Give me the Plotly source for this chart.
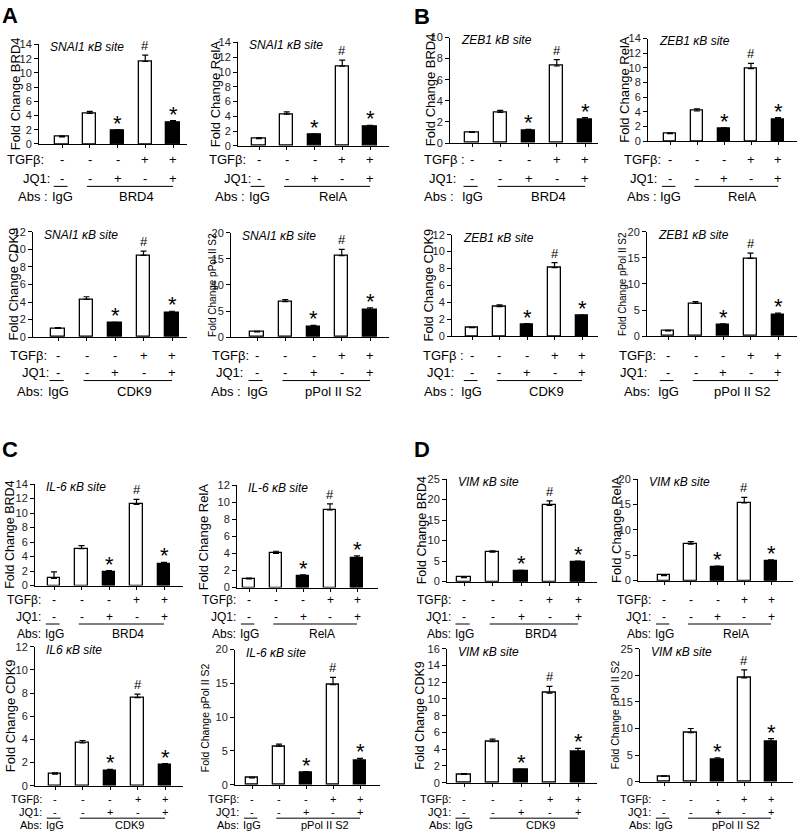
import plotly.graph_objects as go

W, H = 800, 837

# ---------------- data ----------------
tgfb_signs = ["-", "-", "-", "+", "+"]
jq1_signs = ["-", "-", "+", "-", "+"]
star_marks = ["", "", "*", "#", "*"]

snai1_brd4 = [1.0, 4.3, 1.9, 11.6, 3.1]
snai1_brd4_err = [0.12, 0.3, 0.1, 0.9, 0.2]
snai1_rela = [1.0, 4.3, 1.5, 10.8, 2.6]
snai1_rela_err = [0.1, 0.3, 0.1, 0.8, 0.2]
snai1_cdk9 = [1.0, 4.3, 1.6, 9.3, 2.8]
snai1_cdk9_err = [0.1, 0.3, 0.1, 0.5, 0.15]
snai1_pol = [1.0, 6.8, 2.1, 15.6, 5.2]
snai1_pol_err = [0.1, 0.4, 0.15, 1.2, 0.4]

zeb1_brd4 = [1.0, 2.9, 1.2, 7.3, 2.2]
zeb1_brd4_err = [0.06, 0.2, 0.1, 0.6, 0.2]
zeb1_rela = [1.0, 4.1, 1.7, 9.9, 3.0]
zeb1_rela_err = [0.1, 0.3, 0.1, 0.7, 0.2]
zeb1_cdk9 = [1.0, 3.5, 1.4, 8.1, 2.4]
zeb1_cdk9_err = [0.05, 0.2, 0.1, 0.6, 0.1]
zeb1_pol = [1.0, 6.3, 2.2, 14.9, 4.1]
zeb1_pol_err = [0.1, 0.3, 0.15, 1.0, 0.3]

il6_brd4 = [1.0, 5.1, 1.9, 11.2, 2.9]
il6_brd4_err = [0.9, 0.4, 0.15, 0.7, 0.3]
il6_rela = [1.0, 4.0, 1.4, 9.1, 3.4]
il6_rela_err = [0.1, 0.25, 0.1, 0.7, 0.3]
il6_cdk9 = [1.0, 3.7, 1.3, 7.6, 1.8]
il6_cdk9_err = [0.1, 0.2, 0.1, 0.3, 0.1]
il6_pol = [1.0, 5.7, 1.8, 14.8, 3.6]
il6_pol_err = [0.1, 0.3, 0.15, 1.1, 0.3]

vim_brd4 = [1.0, 7.2, 2.6, 18.6, 4.7]
vim_brd4_err = [0.2, 0.3, 0.15, 1.1, 0.3]
vim_rela = [1.0, 7.2, 2.7, 15.3, 3.8]
vim_rela_err = [0.1, 0.5, 0.15, 1.1, 0.3]
vim_cdk9 = [1.0, 4.9, 1.5, 10.7, 3.7]
vim_cdk9_err = [0.1, 0.3, 0.1, 0.8, 0.4]
vim_pol = [1.0, 9.2, 4.2, 19.5, 7.6]
vim_pol_err = [0.1, 0.8, 0.3, 1.5, 0.5]

# ---------------- panel layout (pixel geometry) ----------------
R1 = dict(tg=156, jq=175, ln=183, ab=193, fs=13)
R2 = dict(tg=355, jq=372, ln=380, ab=391, fs=13)
R3 = dict(tg=603, jq=620, ln=627, ab=637, fs=12)
R4 = dict(tg=805, jq=818, ln=824, ab=831, fs=11)

panels = [
    dict(v=snai1_brd4, e=snai1_brd4_err, site="SNAI1 κB site", ab="BRD4", yl="Fold Change BRD4", ymax=14, dt=2,
         xl=39, xr=187, xf=62, xn=173, yt=39, yb=140, tx=15, tf=13, lx=(5, 21, 16), lab=("TGFβ:", "JQ1:", "Abs :"), row=R1),
    dict(v=snai1_rela, e=snai1_rela_err, site="SNAI1 κB site", ab="RelA", yl="Fold Change RelA", ymax=14, dt=2,
         xl=238, xr=389, xf=259, xn=370, yt=37, yb=142, tx=215, tf=13, lx=(207, 222, 213), lab=("TGFβ:", "JQ1:", "Abs :"), row=R1),
    dict(v=snai1_cdk9, e=snai1_cdk9_err, site="SNAI1 κB site", ab="CDK9", yl="Fold Change CDK9", ymax=12, dt=2,
         xl=33, xr=187, xf=58, xn=172, yt=229, yb=336, tx=13, tf=13, lx=(8, 20, 15), lab=("TGFβ:", "JQ1:", "Abs:"), row=R2),
    dict(v=snai1_pol, e=snai1_pol_err, site="SNAI1 κB site", ab="pPol II S2", yl="Fold Change pPol II S2", ymax=20, dt=5,
         xl=231, xr=389, xf=257, xn=370, yt=230, yb=336, tx=213, tf=10, lx=(210, 214, 209), lab=("TGFβ:", "JQ1:", "Abs :"), row=R2),
    dict(v=zeb1_brd4, e=zeb1_brd4_err, site="ZEB1 kB site", ab="BRD4", yl="Fold Change BRD4", ymax=10, dt=2,
         xl=450, xr=598, xf=472, xn=585, yt=32, yb=139, tx=430, tf=13, lx=(422, 427, 422), lab=("TGFβ :", "JQ1:", "Abs :"), row=R1),
    dict(v=zeb1_rela, e=zeb1_rela_err, site="ZEB1 κB site", ab="RelA", yl="Fold Change RelA", ymax=14, dt=2,
         xl=648, xr=797, xf=670, xn=778, yt=33, yb=137, tx=625, tf=13, lx=(622, 628, 625), lab=("TGFβ:", "JQ1:", "Abs :"), row=R1),
    dict(v=zeb1_cdk9, e=zeb1_cdk9_err, site="ZEB1 κB site", ab="CDK9", yl="Fold Change CDK9", ymax=12, dt=2,
         xl=452, xr=598, xf=472, xn=582, yt=232, yb=335, tx=428, tf=13, lx=(421, 425, 422), lab=("TGFβ :", "JQ1:", "Abs :"), row=R2),
    dict(v=zeb1_pol, e=zeb1_pol_err, site="ZEB1 κB site", ab="pPol II S2", yl="Fold Change pPol II S2", ymax=20, dt=5,
         xl=647, xr=797, xf=668, xn=778, yt=229, yb=335, tx=623, tf=10, lx=(617, 618, 622), lab=("TGFβ:", "JQ1:", "Abs:"), row=R2),
    dict(v=il6_brd4, e=il6_brd4_err, site="IL-6 κB site", ab="BRD4", yl="Fold Change BRD4", ymax=14, dt=2,
         xl=35, xr=183, xf=54, xn=164, yt=485, yb=588, tx=10, tf=12.5, lx=None, lab=("TGFβ:", "JQ1:", "Abs:"), row=R3),
    dict(v=il6_rela, e=il6_rela_err, site="IL-6 κB site", ab="RelA", yl="Fold Change RelA", ymax=12, dt=2,
         xl=237, xr=378, xf=249, xn=357, yt=486, yb=590, tx=203, tf=13, lx=None, lab=("TGFβ:", "JQ1:", "Abs:"), row=R3),
    dict(v=vim_brd4, e=vim_brd4_err, site="VIM κB site", ab="BRD4", yl="Fold Change BRD4", ymax=25, dt=5,
         xl=447, xr=597, xf=464, xn=578, yt=480, yb=584, tx=422, tf=12.5, lx=None, lab=("TGFβ:", "JQ1:", "Abs:"), row=R3),
    dict(v=vim_rela, e=vim_rela_err, site="VIM κB site", ab="RelA", yl="Fold Change RelA", ymax=20, dt=5,
         xl=638, xr=793, xf=664, xn=771, yt=480, yb=583, tx=617, tf=13, lx=None, lab=("TGFβ:", "JQ1:", "Abs:"), row=R3),
    dict(v=il6_cdk9, e=il6_cdk9_err, site="IL6 κB site", ab="CDK9", yl="Fold Change CDK9", ymax=12, dt=2,
         xl=35, xr=183, xf=55, xn=165, yt=650, yb=791, tx=10, tf=13, lx=None, lab=("TGFβ:", "JQ1:", "Abs:"), row=R4),
    dict(v=il6_pol, e=il6_pol_err, site="IL-6 κB site", ab="pPol II S2", yl="Fold Change pPol II S2", ymax=20, dt=5,
         xl=235, xr=380, xf=252, xn=360, yt=653, yb=790, tx=205, tf=10.5, lx=None, lab=("TGFβ:", "JQ1:", "Abs:"), row=R4),
    dict(v=vim_cdk9, e=vim_cdk9_err, site="VIM κB site", ab="CDK9", yl="Fold Change CDK9", ymax=16, dt=2,
         xl=447, xr=597, xf=464, xn=578, yt=652, yb=788, tx=420, tf=12.5, lx=None, lab=("TGFβ:", "JQ1:", "Abs:"), row=R4),
    dict(v=vim_pol, e=vim_pol_err, site="VIM κB site", ab="pPol II S2", yl="Fold Change pPol II S2", ymax=25, dt=5,
         xl=640, xr=793, xf=664, xn=771, yt=652, yb=787, tx=615, tf=10.5, lx=None, lab=("TGFβ:", "JQ1:", "Abs:"), row=R4),
]

FONT = "Liberation Sans, Arial, sans-serif"


def px(x):
    return x / W


def py(y):
    return 1 - y / H


fig = go.Figure()
annotations = []
shapes = []

for k, p in enumerate(panels, start=1):
    xa = "x" if k == 1 else f"x{k}"
    ya = "y" if k == 1 else f"y{k}"
    unit = (p["xn"] - p["xf"]) / 4.0
    xr0 = (p["xl"] - p["xf"]) / unit
    xr1 = (p["xr"] - p["xf"]) / unit
    cats = list(range(len(p["v"])))
    fills = ["black" if j == "+" else "white" for j in jq1_signs]
    fig.add_trace(go.Bar(
        x=cats, y=p["v"], xaxis=xa, yaxis=ya, width=0.47,
        marker=dict(color=fills, line=dict(color="black", width=1.3)),
        error_y=dict(type="data", symmetric=False, array=p["e"], arrayminus=[0] * len(p["e"]),
                     color="black", thickness=1.2, width=3),
        showlegend=False, hoverinfo="skip",
    ))
    xkey = "xaxis" if k == 1 else f"xaxis{k}"
    ykey = "yaxis" if k == 1 else f"yaxis{k}"
    fig.update_layout(**{
        xkey: dict(domain=[px(p["xl"]), px(p["xr"])], range=[xr0, xr1], anchor=ya,
                   showline=True, linecolor="black", linewidth=1, ticks="outside", ticklen=3,
                   tickcolor="black", tickvals=cats, showticklabels=False, showgrid=False, zeroline=False,
                   fixedrange=True),
        ykey: dict(domain=[py(p["yb"]), py(p["yt"])], range=[0, p["ymax"]], anchor=xa, dtick=p["dt"],
                   showline=True, linecolor="black", linewidth=1, ticks="outside", ticklen=4,
                   tickcolor="black", showgrid=False, zeroline=False,
                   tickfont=dict(family=FONT, size=11, color="#222"), fixedrange=True),
    })
    # y axis title
    annotations.append(dict(text=p["yl"], xref="paper", yref="paper", x=px(p["tx"]),
                            y=py((p["yt"] + p["yb"]) / 2), textangle=-90, showarrow=False,
                            xanchor="center", yanchor="middle",
                            font=dict(family=FONT, size=p["tf"], color="black")))
    # site label
    annotations.append(dict(text=f"<i>{p['site']}</i>", xref="paper", yref="paper",
                            x=px(p["xl"] + 9), y=py(p["yt"] + 3), showarrow=False,
                            xanchor="left", yanchor="middle",
                            font=dict(family=FONT, size=12, color="black")))
    # significance marks
    for i, m in enumerate(star_marks):
        if not m:
            continue
        top = p["v"][i] + p["e"][i]
        if m == "*":
            annotations.append(dict(text="*", xref=xa, yref=ya, x=i, y=top, showarrow=False,
                                    xanchor="center", yanchor="bottom", yshift=-8,
                                    font=dict(family=FONT, size=22, color="black")))
        else:
            annotations.append(dict(text="#", xref=xa, yref=ya, x=i, y=top, showarrow=False,
                                    xanchor="center", yanchor="bottom", yshift=0,
                                    font=dict(family=FONT, size=13, color="black")))
    row = p["row"]
    fs = row["fs"]
    # row labels
    for n, (lab, yy) in enumerate(zip(p["lab"], (row["tg"], row["jq"], row["ab"]))):
        if p["lx"] is None:
            annotations.append(dict(text=lab, xref="paper", yref="paper", x=px(p["xf"] - 11), y=py(yy),
                                    showarrow=False, xanchor="right", yanchor="middle",
                                    font=dict(family=FONT, size=fs, color="black")))
        else:
            annotations.append(dict(text=lab, xref="paper", yref="paper", x=px(p["lx"][n]), y=py(yy),
                                    showarrow=False, xanchor="left", yanchor="middle",
                                    font=dict(family=FONT, size=fs, color="black")))
    for i in cats:
        annotations.append(dict(text=tgfb_signs[i], xref=xa, yref="paper", x=i, y=py(row["tg"]),
                                showarrow=False, xanchor="center", yanchor="middle",
                                font=dict(family=FONT, size=fs, color="black")))
        annotations.append(dict(text=jq1_signs[i], xref=xa, yref="paper", x=i, y=py(row["jq"]),
                                showarrow=False, xanchor="center", yanchor="middle",
                                font=dict(family=FONT, size=fs, color="black")))
    annotations.append(dict(text="IgG", xref=xa, yref="paper", x=0, y=py(row["ab"]),
                            showarrow=False, xanchor="center", yanchor="middle",
                            font=dict(family=FONT, size=fs, color="black")))
    annotations.append(dict(text=p["ab"], xref=xa, yref="paper", x=2.7, y=py(row["ab"]),
                            showarrow=False, xanchor="center", yanchor="middle",
                            font=dict(family=FONT, size=fs, color="black")))
    shapes.append(dict(type="line", xref=xa, yref="paper", x0=-0.3, x1=0.2,
                       y0=py(row["ln"]), y1=py(row["ln"]), line=dict(color="black", width=1)))
    shapes.append(dict(type="line", xref=xa, yref="paper", x0=0.9, x1=4.0,
                       y0=py(row["ln"]), y1=py(row["ln"]), line=dict(color="black", width=1)))

# panel letters
for letter, lx, ly in [("A", 0, 10), ("B", 412, 11), ("C", 0, 450), ("D", 412, 450)]:
    annotations.append(dict(text=f"<b>{letter}</b>", xref="paper", yref="paper", x=px(lx), y=py(ly),
                            showarrow=False, xanchor="left", yanchor="middle",
                            font=dict(family=FONT, size=22, color="black")))

fig.update_layout(width=W, height=H, margin=dict(l=0, r=0, t=0, b=0),
                  paper_bgcolor="white", plot_bgcolor="white",
                  annotations=annotations, shapes=shapes, bargap=0)

fig.write_html("out.html", config={"displayModeBar": False},
               post_script="document.body.style.margin='0';document.body.style.overflow='hidden';")
